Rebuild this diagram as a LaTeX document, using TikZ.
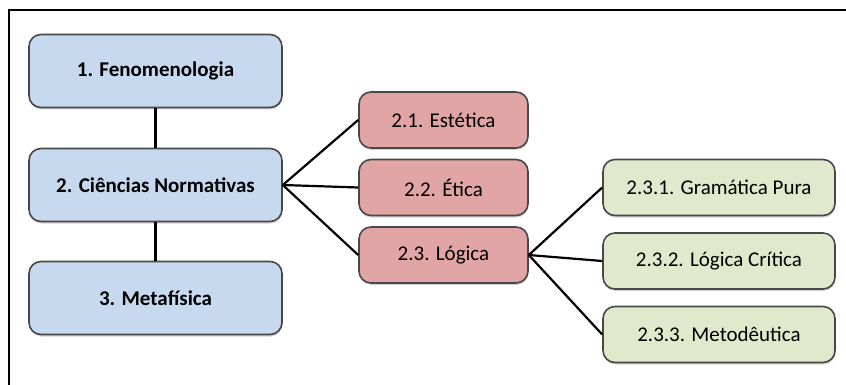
\documentclass[tikz,border=0pt]{standalone}
\usepackage{fontspec}
\setmainfont{Carlito}
\usetikzlibrary{shadows}
\definecolor{azul}{RGB}{198,217,238}
\definecolor{rosa}{RGB}{226,165,165}
\definecolor{verde}{RGB}{225,233,205}
\definecolor{borda}{RGB}{72,72,72}

\begin{document}
\begin{tikzpicture}[x=1pt,y=-1pt,
	caixa/.style = {draw=borda, line width=1.6pt, rounded corners=12pt,
		drop shadow={opacity=0.35, shadow xshift=0.5pt, shadow yshift=-2pt},
		font=\fontsize{21}{25}\selectfont, inner sep=0pt}]
				\useasboundingbox (0,0) rectangle (846,385);
				\draw [line width=2.2pt,black] (846,10) -- (9,10) -- (9,385);
				\begin{scope}[every node/.style={caixa, fill=azul, minimum width=253pt, minimum height=73pt, font=\fontsize{21}{25}\selectfont\bfseries}]
					\node (F) at (155.5,71) {1. Fenomenologia};
					\node (N) at (155.5,185) {2. Ciências Normativas};
					\node (M) at (155.5,298) {3. Metafísica};
				\end{scope}
				\begin{scope}[every node/.style={caixa, fill=rosa, minimum width=169pt, minimum height=56pt}]
					\node (E) at (443.5,120) {2.1. Estética};
					\node (T) at (443.5,187.5) {2.2. Ética};
					\node (L) at (443.5,255) {2.3. Lógica};
				\end{scope}
				\begin{scope}[every node/.style={caixa, fill=verde, minimum width=232pt, minimum height=56pt}]
					\node (G) at (719,187.5) {2.3.1. Gramática Pura};
					\node (C) at (719,261) {2.3.2. Lógica Crítica};
					\node (D) at (719,334.5) {2.3.3. Metodêutica};
				\end{scope}
				\draw [line width=2.2pt,black] (F) -- (N);
				\draw [line width=2.2pt,black] (N) -- (M);
				\draw [line width=2.2pt,black] (N.east) -- (E.west);
				\draw [line width=2.2pt,black] (N.east) -- (T.west);
				\draw [line width=2.2pt,black] (N.east) -- (L.west);
				\draw [line width=2.2pt,black] (L.east) -- (G.west);
				\draw [line width=2.2pt,black] (L.east) -- (C.west);
				\draw [line width=2.2pt,black] (L.east) -- (D.west);
			\end{tikzpicture}
\end{document}
